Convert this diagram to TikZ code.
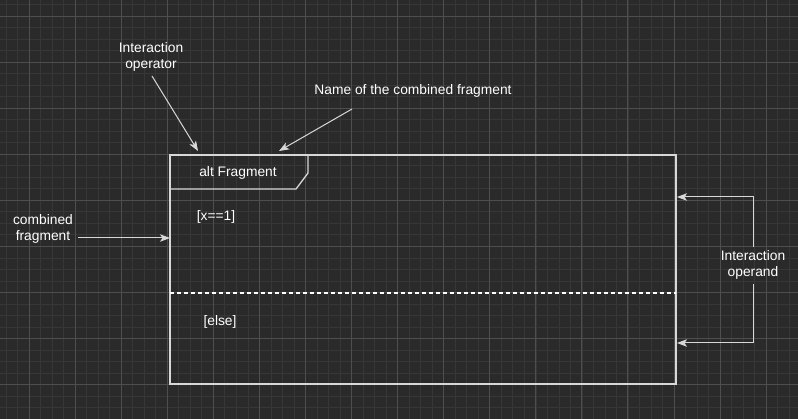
\documentclass[tikz,border=0pt]{standalone}
\usepackage{fontspec}
\setmainfont{Liberation Sans}
\usetikzlibrary{calc}
\usetikzlibrary{positioning}
\usetikzlibrary{arrows.meta}

\definecolor{canvas}{HTML}{2A2A2A}
\definecolor{gridminor}{HTML}{373737}
\definecolor{gridmajor}{HTML}{4E4E4E}
\definecolor{stroke}{HTML}{D8D8D8}

\begin{document}
\begin{tikzpicture}[%
  x=1pt, y=-1pt,
  >={Stealth[length=10pt, width=7.5pt, inset=2.5pt]},
  label/.style={text=white, align=center, inner sep=0pt,
    font=\fontsize{13.8}{16.5}\selectfont},
  frame/.style={draw=stroke, line width=1.3pt},
  pointer/.style={draw=stroke, line width=1pt, ->},
]

  \useasboundingbox (0,0) rectangle (798,419);
  \fill[canvas] (0,0) rectangle (798,419);

  % grid
  \foreach \i in {0,...,69} \draw[gridminor, line width=0.8pt] ({6+11.52*\i},0) -- ({6+11.52*\i},419);
  \foreach \i in {0,...,36} \draw[gridminor, line width=0.8pt] (0,{4.5+11.52*\i}) -- (798,{4.5+11.52*\i});
  \foreach \i in {0,...,17} \draw[gridmajor, line width=0.9pt] ({29+46.07*\i},0) -- ({29+46.07*\i},419);
  \foreach \i in {0,...,9} \draw[gridmajor, line width=0.9pt] (0,{16+46.07*\i}) -- (798,{16+46.07*\i});

  % combined fragment
  \coordinate (f0) at (170,155);
  \coordinate (f1) at (676,155);
  \coordinate (f2) at (676,384);
  \coordinate (f3) at (170,384);
  \draw[frame] (f0) -- (f1) -- (f2) -- (f3) -- cycle;
  \draw[frame] (f0) -- (308,155) -- (308,173) -- (296,189) -- (170,189);
  \draw[white, line width=1.2pt, dash pattern=on 4pt off 3pt] (170,293) -- (676,293);

  \node[label] (alt) at (238,173) {alt Fragment};
  \node[label] (g1) at (216,217) {[x==1]};
  \node[label] (g2) at (220,322) {[else]};

  % annotations
  \node[label] (op) at (151,57) {Interaction\\operator};
  \node[label] (name) at (413,91) {Name of the combined fragment};
  \node[label] (cf) at (43,229) {combined\\fragment};
  \node[label] (opd) at (753,265) {Interaction\\operand};

  \coordinate (opS) at (152,76);
  \coordinate (opT) at (198,151);
  \coordinate (nameS) at (352,109);
  \coordinate (nameT) at (279,151);
  \coordinate (cfS) at (78,238);
  \coordinate (cfT) at (170,238);
  \coordinate (opdT1) at (677,197);
  \coordinate (opdT2) at (677,343);

  \draw[pointer] (opS) -- (opT);
  \draw[pointer] (nameS) -- (nameT);
  \draw[pointer] (cfS) -- (cfT);
  \draw[pointer] ($(opd.north)+(0,-3)$) |- (opdT1);
  \draw[pointer] ($(opd.south)+(0,+4)$) |- (opdT2);

\end{tikzpicture}
\end{document}
